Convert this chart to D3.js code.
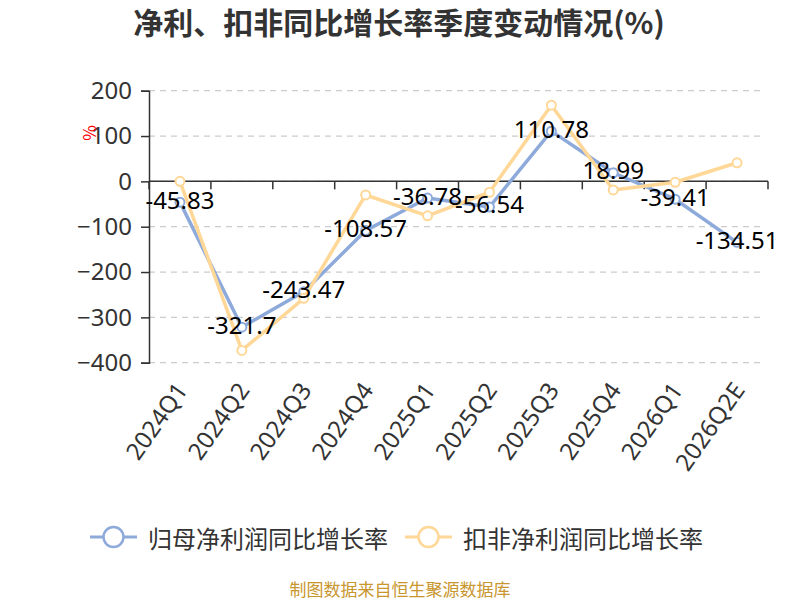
<!DOCTYPE html>
<html>
<head>
<meta charset="UTF-8">
<title>净利、扣非同比增长率季度变动情况</title>
<style>
  body { margin: 0; background: #fff; }
  svg { display: block; font-family: "Noto Sans CJK SC", "Noto Sans", sans-serif; }
</style>
</head>
<body>
<div id="chart"></div>
<script src="https://d3js.org/d3.v7.min.js"></script>
<script>
const quarters = ["2024Q1", "2024Q2", "2024Q3", "2024Q4", "2025Q1", "2025Q2", "2025Q3", "2025Q4", "2026Q1", "2026Q2E"];
const netProfitGrowth = [-45.83, -321.7, -243.47, -108.57, -36.78, -56.54, 110.78, 18.99, -39.41, -134.51];
const deductedGrowth = [0, -373, -258, -30, -76, -24, 168, -19, -2, 41];
const yTicks = [200, 100, 0, -100, -200, -300, -400];
const seriesNames = ["归母净利润同比增长率", "扣非净利润同比增长率"];
const colors = ["#8eaadb", "#ffd797"];

const width = 800, height = 600;
const plotLeft = 149, plotRight = 768, plotTop = 90.7, plotBottom = 362.7;

const svg = d3.select("#chart").append("svg")
  .attr("width", width).attr("height", height);

svg.append("text")
  .attr("x", 399).attr("y", 34)
  .attr("text-anchor", "middle")
  .attr("font-size", 30).attr("font-weight", "bold").attr("fill", "#333")
  .text("净利、扣非同比增长率季度变动情况(%)");

const x = d3.scaleBand().domain(quarters).range([plotLeft, plotRight]);
const y = d3.scaleLinear().domain([-400, 200]).range([plotBottom, plotTop]);

// grid lines
svg.append("g").selectAll("line").data(yTicks).join("line")
  .attr("x1", plotLeft).attr("x2", plotRight - 3)
  .attr("y1", d => y(d)).attr("y2", d => y(d))
  .attr("stroke", "#ccc").attr("stroke-width", 1.2)
  .attr("stroke-dasharray", "6,5");

// y axis
const yAxis = svg.append("g")
  .attr("transform", `translate(${plotLeft},0)`)
  .call(d3.axisLeft(y).tickValues(yTicks).tickSize(8).tickPadding(9));
yAxis.select(".domain").attr("stroke", "#333").attr("stroke-width", 1.5);
yAxis.selectAll(".tick line").attr("stroke", "#333").attr("stroke-width", 1.5);
yAxis.selectAll(".tick text").attr("font-size", 24).attr("fill", "#333")
  .attr("font-family", "Noto Sans, sans-serif");

// unit label
svg.append("text")
  .attr("transform", "translate(88,133) rotate(-90)")
  .attr("text-anchor", "middle").attr("dominant-baseline", "central")
  .attr("font-size", 17).attr("fill", "#ff0000")
  .text("%");

// x axis line at zero
const xAxisG = svg.append("g");
xAxisG.append("line")
  .attr("x1", plotLeft).attr("x2", plotRight)
  .attr("y1", y(0)).attr("y2", y(0))
  .attr("stroke", "#333").attr("stroke-width", 1.5);
const boundaries = quarters.map(q => x(q)).concat([plotRight]);
xAxisG.selectAll(".xtick").data(boundaries).join("line")
  .attr("class", "xtick")
  .attr("x1", d => d).attr("x2", d => d)
  .attr("y1", y(0)).attr("y2", y(0) + 8)
  .attr("stroke", "#333").attr("stroke-width", 1.5);

// x labels at bottom
svg.append("g").selectAll("text").data(quarters).join("text")
  .attr("transform", d => `translate(${x(d) + x.bandwidth() / 2 + 1},${plotBottom + 22}) rotate(-55)`)
  .attr("text-anchor", "end").attr("dominant-baseline", "central")
  .attr("font-size", 24).attr("fill", "#333")
  .attr("font-family", "Noto Sans, sans-serif")
  .text(d => d);

const cx = q => x(q) + x.bandwidth() / 2;
const seriesData = [netProfitGrowth, deductedGrowth];

[0, 1].forEach(i => {
  const pts = quarters.map((q, j) => [cx(q), y(seriesData[i][j])]);
  svg.append("path")
    .attr("d", d3.line()(pts))
    .attr("fill", "none").attr("stroke", colors[i]).attr("stroke-width", 3.5)
    .attr("stroke-linejoin", "round");
  svg.append("g").selectAll("circle").data(pts).join("circle")
    .attr("cx", d => d[0]).attr("cy", d => d[1]).attr("r", 4.5)
    .attr("fill", "#fff").attr("stroke", colors[i]).attr("stroke-width", 2);
});

// data labels for net profit series
svg.append("g").selectAll("text").data(quarters).join("text")
  .attr("x", d => cx(d))
  .attr("y", (d, j) => y(netProfitGrowth[j]) - 3)
  .attr("text-anchor", "middle").attr("dominant-baseline", "central")
  .attr("font-size", 24).attr("fill", "#000")
  .attr("font-family", "Noto Sans, sans-serif")
  .text((d, j) => netProfitGrowth[j]);

// legend
const legendX = [90, 405];
seriesNames.forEach((name, i) => {
  const g = svg.append("g").attr("transform", `translate(${legendX[i]},537)`);
  g.append("line").attr("x1", 0).attr("x2", 47).attr("y1", 0).attr("y2", 0)
    .attr("stroke", colors[i]).attr("stroke-width", 3);
  g.append("circle").attr("cx", 23.5).attr("cy", 0).attr("r", 10)
    .attr("fill", "#fff").attr("stroke", colors[i]).attr("stroke-width", 2.5);
  g.append("text").attr("x", 58).attr("y", 0)
    .attr("dominant-baseline", "central")
    .attr("font-size", 24).attr("fill", "#333")
    .text(name);
});

// footer
svg.append("text")
  .attr("x", 400).attr("y", 588)
  .attr("text-anchor", "middle").attr("dominant-baseline", "central")
  .attr("font-size", 17).attr("fill", "#c8962e")
  .text("制图数据来自恒生聚源数据库");
</script>
</body>
</html>
